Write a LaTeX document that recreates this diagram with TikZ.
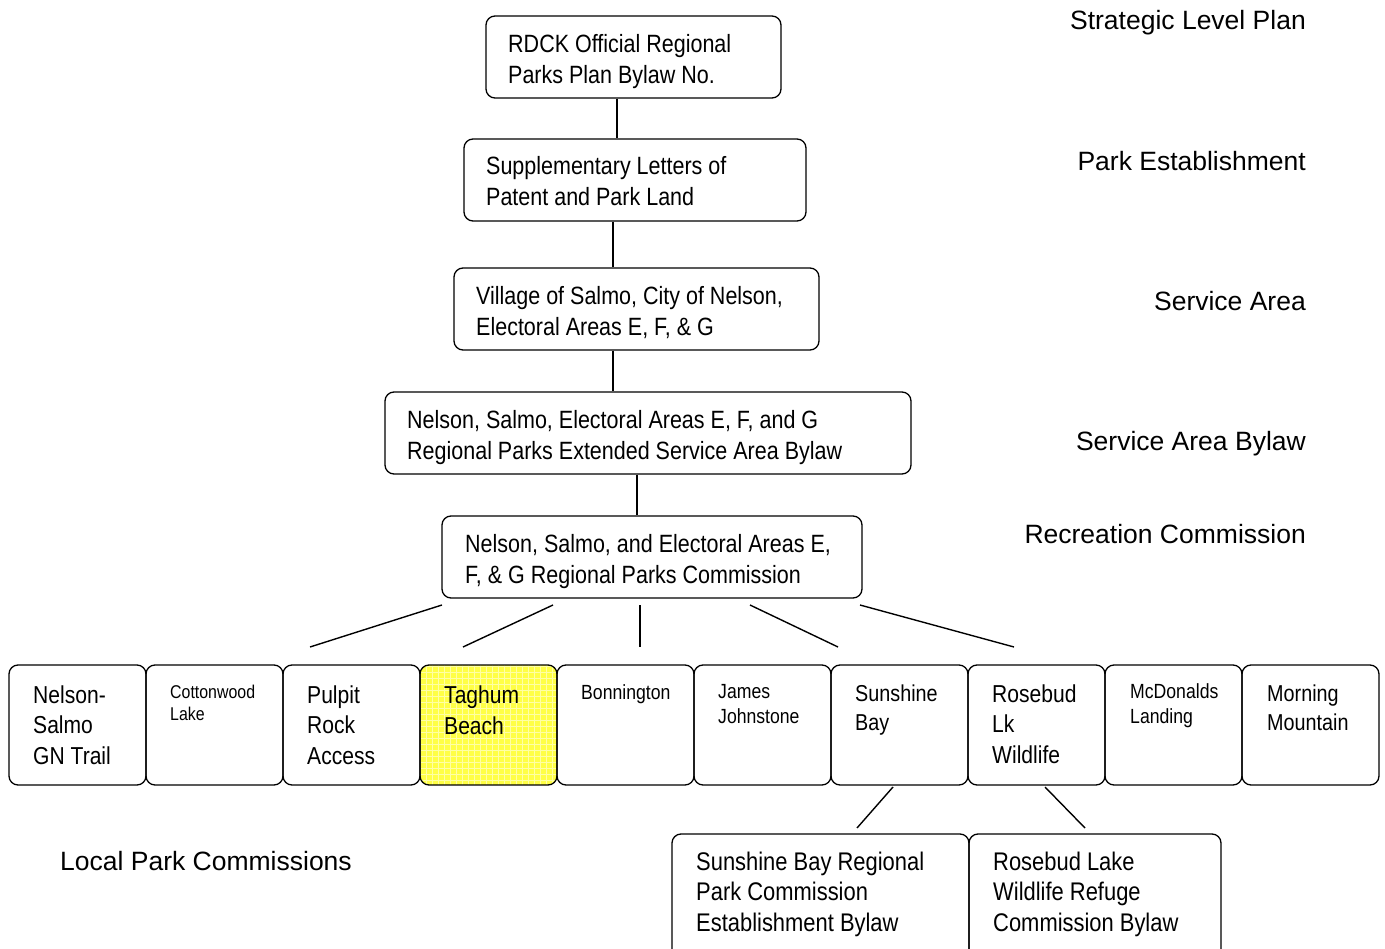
\documentclass[tikz,border=0pt]{standalone}
\usepackage{fontspec}
\setmainfont{Liberation Sans}[FakeStretch=0.86]
\newfontfamily\sidefont{Liberation Sans}
\begin{document}
\begin{tikzpicture}[x=1pt,y=-1pt,
  box/.style={draw, line width=1.3pt, rounded corners=9pt, inner sep=0pt},
  pbox/.style={box, minimum width=137pt, minimum height=120pt},
  lbl/.style={inner sep=0pt, align=left, anchor=base west},
  top/.style={lbl, font=\fontsize{25}{31}\selectfont},
  big/.style={lbl, font=\fontsize{24.5}{30.5}\selectfont},
  med/.style={lbl, font=\fontsize{23}{29}\selectfont},
  sml/.style={lbl, font=\fontsize{20.5}{25}\selectfont},
  tiny/.style={lbl, font=\fontsize{18.5}{22}\selectfont},
  low/.style={lbl, font=\fontsize{25.5}{30.5}\selectfont},
  side/.style={inner sep=0pt, font=\sidefont\fontsize{26.5}{30}\selectfont},
  conn/.style={line width=1.4pt}]
\useasboundingbox (0,0) rectangle (1385,949);
\definecolor{tyellow}{RGB}{255,255,70}
\definecolor{tgrid}{RGB}{255,255,165}

% Taghum fill with grid
\begin{scope}
\clip[rounded corners=9pt] (420,665) rectangle (557,785);
\fill[tyellow] (420,665) rectangle (557,785);
\draw[tgrid, line width=0.7pt] (420,665) grid[step=6pt] (557,785);
\end{scope}

% top chain
\node[box, minimum width=295pt, minimum height=82pt] (b1) at (633.5,57) {};
\node[box, minimum width=342pt, minimum height=82pt] (b2) at (635,180) {};
\node[box, minimum width=365pt, minimum height=82pt] (b3) at (636.5,309) {};
\node[box, minimum width=526pt, minimum height=82pt] (b4) at (648,433) {};
\node[box, minimum width=420pt, minimum height=82pt] (b5) at (652,557) {};
\node[top] (bt1) at (508,83.5) {RDCK Official Regional\\Parks Plan Bylaw No.};
\node[top] (bt2) at (486,206) {Supplementary Letters of\\Patent and Park Land};
\node[top] (bt3) at (476,335.5) {Village of Salmo, City of Nelson,\\Electoral Areas E, F, \& G};
\node[top] (bt4) at (407,459.5) {Nelson, Salmo, Electoral Areas E, F, and G\\Regional Parks Extended Service Area Bylaw};
\node[top] (bt5) at (465,583) {Nelson, Salmo, and Electoral Areas E,\\F, \& G Regional Parks Commission};

\coordinate (x1) at (617,0);
\coordinate (x2) at (613,0);
\coordinate (x3) at (637,0);
\draw[conn] (b1.south -| x1) -- (b2.north -| x1);
\draw[conn] (b2.south -| x2) -- (b3.north -| x2);
\draw[conn] (b3.south -| x2) -- (b4.north -| x2);
\draw[conn] (b4.south -| x3) -- (b5.north -| x3);

% park row
\foreach \i in {1,...,10}{
  \node[pbox] (p\i) at ({77.5+137*(\i-1)},725) {};
}
\node[big] (t1) at (33,764) {Nelson-\\Salmo\\GN Trail};
\node[tiny] (t2) at (170,720) {Cottonwood\\Lake};
\node[big] (t3) at (307,764) {Pulpit\\Rock\\Access};
\node[big] (t4) at (444,734) {Taghum\\Beach};
\node[sml] (t5) at (581,699) {Bonnington};
\node[sml] (t6) at (718,723) {James\\Johnstone};
\node[med] (t7) at (855,730) {Sunshine\\Bay};
\node[big] (t8) at (992,763) {Rosebud\\Lk\\Wildlife};
\node[sml] (t9) at (1130,723) {McDonalds\\Landing};
\node[med] (t10) at (1267,730) {Morning\\Mountain};

% fan connectors
\coordinate (f1a) at (442,605); \coordinate (f1b) at (310,647);
\coordinate (f2a) at (553,605); \coordinate (f2b) at (463,647);
\coordinate (f3a) at (640,605); \coordinate (f3b) at (640,647);
\coordinate (f4a) at (750,605); \coordinate (f4b) at (838,647);
\coordinate (f5a) at (860,605); \coordinate (f5b) at (1014,647);
\foreach \k in {1,...,5}{\draw[conn] (f\k a) -- (f\k b);}

% lower bylaw boxes
\node[box, minimum width=297pt, minimum height=126pt] (s1) at (820.5,897) {};
\node[box, minimum width=252pt, minimum height=126pt] (s2) at (1095,897) {};
\node[low] (u1) at (696,931) {Sunshine Bay Regional\\Park Commission\\Establishment Bylaw};
\node[low] (u2) at (993,931) {Rosebud Lake\\Wildlife Refuge\\Commission Bylaw};
\coordinate (g1a) at (893,787); \coordinate (g1b) at (857,828);
\coordinate (g2a) at (1045,787); \coordinate (g2b) at (1085,828);
\draw[conn] (g1a) -- (g1b);
\draw[conn] (g2a) -- (g2b);

% side labels
\node[side, anchor=base east] (l1) at (1306,29.5) {Strategic Level Plan};
\node[side, anchor=base east] (l2) at (1306,170.5) {Park Establishment};
\node[side, anchor=base east] (l3) at (1306,310.5) {Service Area};
\node[side, anchor=base east] (l4) at (1306,450.5) {Service Area Bylaw};
\node[side, anchor=base east] (l5) at (1306,543.5) {Recreation Commission};
\node[side, anchor=base west] (l6) at (60,870.5) {Local Park Commissions};
\end{tikzpicture}
\end{document}
